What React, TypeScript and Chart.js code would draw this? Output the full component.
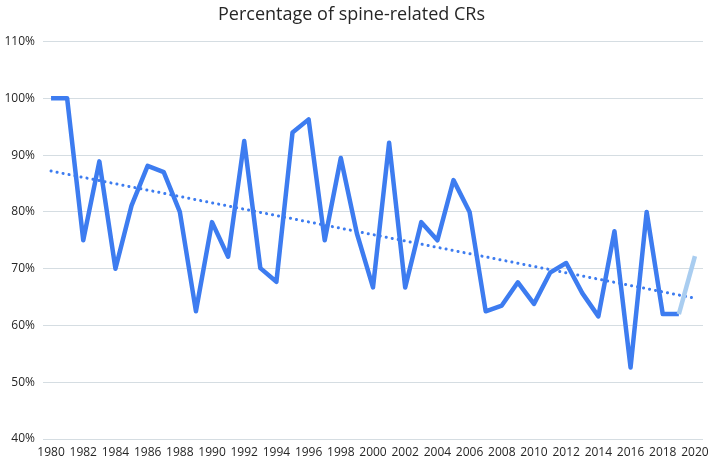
import React, { useEffect, useRef } from "react";
import { Chart, registerables } from "chart.js";

Chart.register(...registerables);

const years: string[] = [
  "1980","1981","1982","1983","1984","1985","1986","1987","1988","1989",
  "1990","1991","1992","1993","1994","1995","1996","1997","1998","1999",
  "2000","2001","2002","2003","2004","2005","2006","2007","2008","2009",
  "2010","2011","2012","2013","2014","2015","2016","2017","2018","2019","2020",
];

const spinePct: number[] = [
  100, 100, 75, 88.9, 70, 81.1, 88.1, 87, 80, 62.5,
  78.2, 72.1, 92.5, 70.1, 67.7, 94.0, 96.3, 75, 89.5, 76.2,
  66.7, 92.2, 66.7, 78.2, 75, 85.6, 80, 62.5, 63.5, 67.6,
  63.8, 69.3, 71.0, 65.7, 61.6, 76.6, 52.6, 80, 62.0, 62.0, 72.2,
];

// Linear trend line endpoints (first and last year)
const trendStart = 87.2;
const trendEnd = 64.8;

const yTicks: number[] = [40, 50, 60, 70, 80, 90, 100, 110];

const TITLE = "Percentage of spine-related CRs";

export default function App() {
  const ref = useRef<HTMLCanvasElement | null>(null);

  useEffect(() => {
    document.body.style.margin = "0";
    const canvas = ref.current;
    if (!canvas) return;
    const trend = years.map((_, i) =>
      i === 0 ? trendStart : i === years.length - 1 ? trendEnd : null
    );
    const font = "'Open Sans', 'Liberation Sans', sans-serif";
    const chart = new Chart(canvas, {
      type: "line",
      data: {
        labels: years,
        datasets: [
          {
            label: "Spine-related CRs",
            data: spinePct,
            borderColor: "#3d7cf0",
            borderWidth: 4.5,
            pointRadius: 0,
            tension: 0,
            borderJoinStyle: "round",
            segment: {
              borderColor: (ctx: any) =>
                ctx.p1DataIndex === years.length - 1 ? "#a9cdf0" : "#3d7cf0",
            },
          },
          {
            label: "Trend",
            data: trend,
            spanGaps: true,
            borderColor: "#3d7cf0",
            borderWidth: 3,
            borderDash: [0.1, 6],
            borderCapStyle: "round",
            pointRadius: 0,
            tension: 0,
          },
        ],
      },
      options: {
        animation: false,
        responsive: false,
        layout: { padding: { left: 0, right: 6, top: 4, bottom: 0 } },
        plugins: {
          legend: { display: false },
          tooltip: { enabled: false },
          title: {
            display: true,
            text: TITLE,
            color: "#262626",
            font: { family: font, size: 18, weight: "normal" },
            padding: { top: 0, bottom: 16 },
          },
        },
        scales: {
          x: {
            type: "category",
            offset: true,
            grid: { display: false, drawTicks: false },
            border: { display: false },
            afterFit: (scale: any) => {
              scale.height = 23;
              scale.paddingLeft = 0;
              scale.paddingRight = 0;
            },
            ticks: {
              autoSkip: false,
              maxRotation: 0,
              minRotation: 0,
              padding: 6,
              color: "#262626",
              font: { family: font, size: 12 },
              callback: (_v: any, i: number) => (i % 2 === 0 ? years[i] : ""),
            },
          },
          y: {
            min: yTicks[0],
            max: yTicks[yTicks.length - 1],
            afterBuildTicks: (scale: any) => {
              scale.ticks = yTicks.map((v) => ({ value: v }));
            },
            afterFit: (scale: any) => {
              scale.width = 43;
            },
            grid: { color: "#d5dde2", lineWidth: 1, drawTicks: false },
            border: { display: false },
            ticks: {
              padding: 8,
              color: "#262626",
              font: { family: font, size: 12 },
              callback: (v: any) => v + "%",
            },
          },
        },
      },
    });
    return () => chart.destroy();
  }, []);

  return (
    <div style={{ position: "relative", width: 709, height: 462 }}>
      <canvas ref={ref} width={709} height={462} style={{ width: 709, height: 462 }} />
    </div>
  );
}
